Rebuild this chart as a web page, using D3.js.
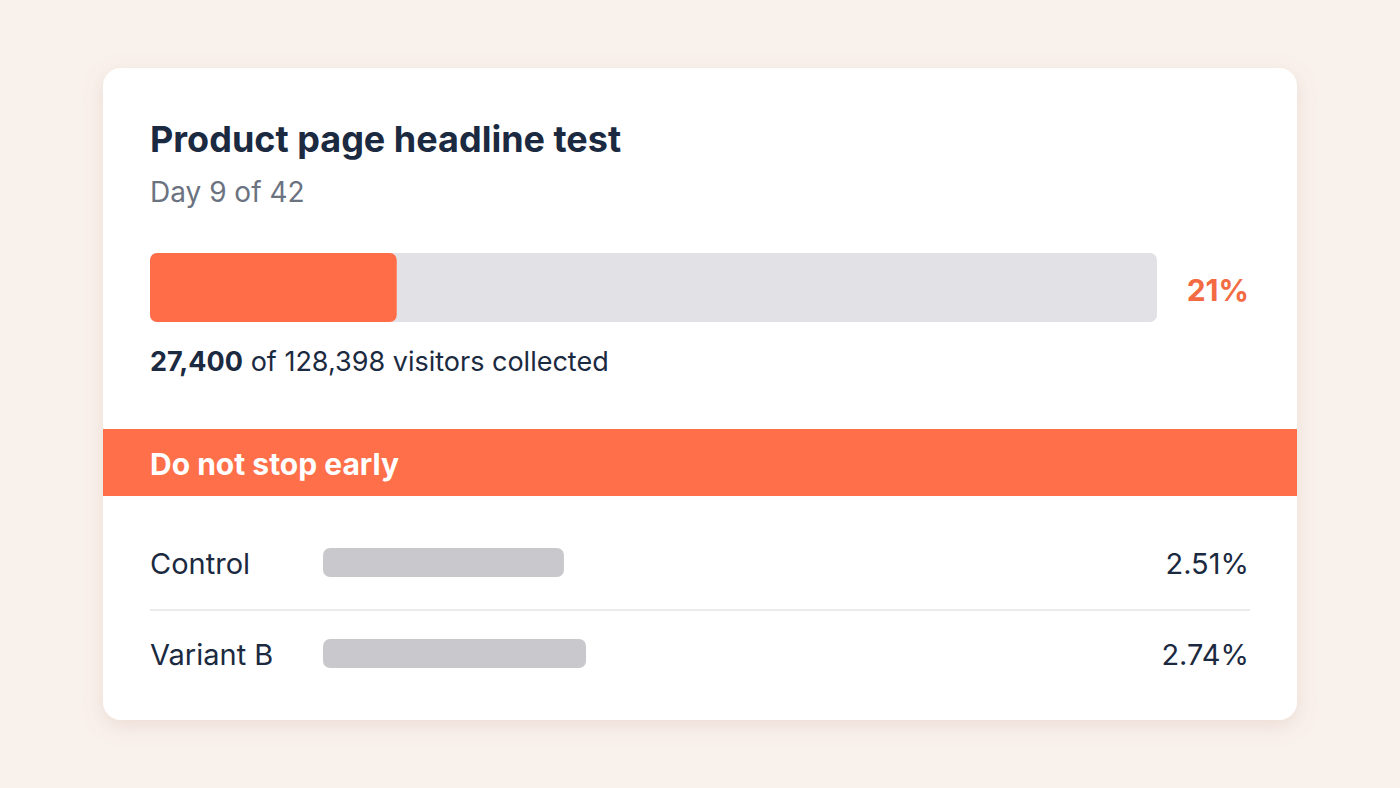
<!DOCTYPE html>
<html><head><meta charset="utf-8">
<script src="https://cdn.jsdelivr.net/npm/d3@7"></script>
<style>
body{margin:0;background:#f9f1ec;font-family:Inter,"Noto Sans",sans-serif;}
</style></head>
<body><svg id="chart" width="1400" height="788"></svg>
<script>
const title = "Product page headline test";
const subtitle = "Day 9 of 42";
const collected = 27400;
const totalVisitors = 128398;
const progressLabel = "21%";
const progressShown = 0.245; // filled part as drawn in the picture
const banner = "Do not stop early";
const variants = ["Control", "Variant B"];
const rates = [2.51, 2.74];

const svg = d3.select("#chart");
const defs = svg.append("defs");
const f = defs.append("filter").attr("id", "sh").attr("x", "-10%").attr("y", "-10%").attr("width", "120%").attr("height", "130%");
f.append("feDropShadow").attr("dx", 0).attr("dy", 6).attr("stdDeviation", 10).attr("flood-color", "#b08070").attr("flood-opacity", 0.18);
defs.append("clipPath").attr("id", "cardclip").append("rect")
  .attr("x", 103).attr("y", 68).attr("width", 1194).attr("height", 652).attr("rx", 18);

svg.append("rect").attr("x", 103).attr("y", 68).attr("width", 1194).attr("height", 652)
  .attr("rx", 18).attr("fill", "#fff").attr("filter", "url(#sh)");

svg.append("text").attr("x", 150).attr("y", 152).text(title)
  .attr("font-size", 36).attr("font-weight", 700).attr("fill", "#1b2a40");
svg.append("text").attr("x", 150).attr("y", 202).text(subtitle)
  .attr("font-size", 28).attr("fill", "#6b7280");

const px = d3.scaleLinear().domain([0, 1]).range([150, 1157]);
svg.append("rect").attr("x", px(0)).attr("y", 253).attr("width", px(1) - px(0)).attr("height", 69)
  .attr("rx", 7).attr("fill", "#e1e1e6");
svg.append("rect").attr("x", px(0)).attr("y", 253).attr("width", px(progressShown) - px(0)).attr("height", 69)
  .attr("rx", 7).attr("fill", "#ff6d48");
svg.append("text").attr("x", 1249).attr("y", 301).attr("text-anchor", "end").text(progressLabel)
  .attr("font-size", 30).attr("font-weight", 700).attr("fill", "#f26b43");

const fmt = d3.format(",");
const t = svg.append("text").attr("x", 150).attr("y", 371).attr("font-size", 27).attr("fill", "#1b2a40");
t.append("tspan").attr("font-weight", 700).text(fmt(collected));
t.append("tspan").text(" of " + fmt(totalVisitors) + " visitors collected");

svg.append("rect").attr("clip-path", "url(#cardclip)").attr("x", 103).attr("y", 429).attr("width", 1194).attr("height", 67).attr("fill", "#ff6f4a");
svg.append("text").attr("x", 150).attr("y", 475).text(banner)
  .attr("font-size", 30).attr("font-weight", 700).attr("fill", "#fff");

const y = d3.scaleBand().domain(variants).range([517, 699]);
const bx = d3.scaleLinear().domain([0, 3]).range([0, 288]);
svg.append("line").attr("x1", 150).attr("x2", 1250).attr("y1", 610).attr("y2", 610).attr("stroke", "#e4e4e7").attr("stroke-width", 1.5);
const row = svg.selectAll("g.row").data(variants).join("g").attr("class", "row")
  .attr("transform", d => `translate(0,${y(d) + y.bandwidth() / 2})`);
row.append("text").attr("x", 150).attr("y", 11).text(d => d).attr("font-size", 29).attr("fill", "#1b2a40");
row.append("rect").attr("x", 323).attr("y", -14.5).attr("height", 29).attr("rx", 7)
  .attr("width", (d, i) => bx(rates[i])).attr("fill", "#c9c9cd");
row.append("text").attr("x", 1249).attr("y", 11).attr("text-anchor", "end")
  .text((d, i) => rates[i].toFixed(2) + "%").attr("font-size", 29).attr("fill", "#1b2a40");
</script></body></html>
